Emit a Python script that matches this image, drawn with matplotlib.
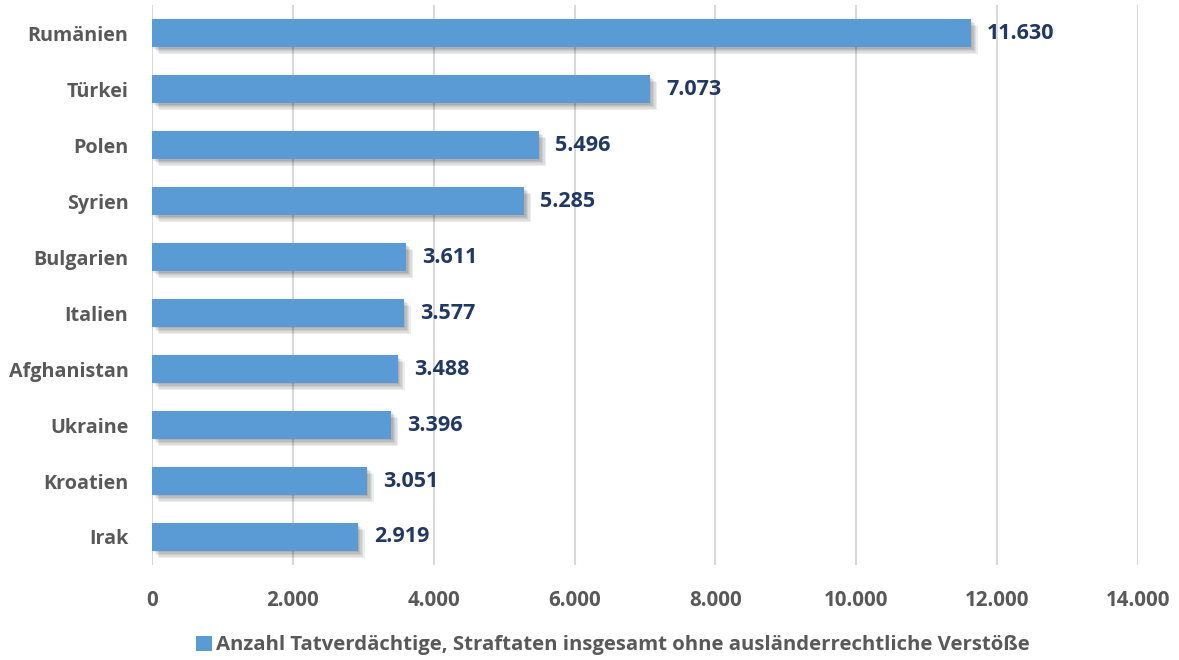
import matplotlib
matplotlib.use("Agg")
import matplotlib.pyplot as plt
import matplotlib.patheffects as pe
from matplotlib.patches import Patch
from matplotlib.ticker import FuncFormatter

countries = ["Rumänien", "Türkei", "Polen", "Syrien", "Bulgarien",
             "Italien", "Afghanistan", "Ukraine", "Kroatien", "Irak"]
values = [11630, 7073, 5496, 5285, 3611, 3577, 3488, 3396, 3051, 2919]
legend_label = "Anzahl Tatverdächtige, Straftaten insgesamt ohne ausländerrechtliche Verstöße"

bar_color = "#5B9BD5"
grey = "#595959"
navy = "#203864"


def de_fmt(v, pos=None):
    return "{:,.0f}".format(v).replace(",", ".")


def main():
    plt.rcParams["font.family"] = ["Open Sans", "DejaVu Sans"]
    plt.rcParams["font.weight"] = "bold"
    fig = plt.figure(figsize=(11.79, 6.6), dpi=100)
    ax = fig.add_axes([0.129, 0.144, 0.836, 0.848])

    ypos = list(range(len(countries)))[::-1]
    bars = ax.barh(ypos, values, height=0.5, color=bar_color, zorder=3)
    # soft shadow: stack a few faint offset copies
    shadow = [pe.SimplePatchShadow(offset=(k, -k), shadow_rgbFace="#000000", alpha=0.07)
              for k in (5, 4, 3, 2, 1)]
    for b in bars:
        b.set_path_effects(shadow + [pe.Normal()])

    for y, v in zip(ypos, values):
        ax.text(v + 230, y, de_fmt(v), va="center", ha="left", fontsize=15.5,
                fontweight="bold", color=navy)

    ax.set_xlim(0, 14000)
    ax.set_ylim(-0.5, len(countries) - 0.5)
    ax.set_xticks(range(0, 14001, 2000))
    ax.xaxis.set_major_formatter(FuncFormatter(de_fmt))
    ax.set_yticks(ypos)
    ax.set_yticklabels(countries)
    ax.tick_params(axis="both", length=0, labelsize=14.8, colors=grey)
    ax.tick_params(axis="x", pad=18)
    ax.tick_params(axis="y", pad=17, labelsize=14.2)
    ax.grid(axis="x", color="#D9D9D9", linewidth=1.5, zorder=0)
    for s in ax.spines.values():
        s.set_visible(False)

    handle = Patch(facecolor=bar_color, edgecolor="none")
    fig.legend([handle], [legend_label], loc="center", bbox_to_anchor=(0.52, 0.022),
               frameon=False, fontsize=14.7, handlelength=0.8, handleheight=0.8,
               handletextpad=0.2, labelcolor=grey)

    fig.savefig("out.png", dpi=100, facecolor="white")


if __name__ == "__main__":
    main()
